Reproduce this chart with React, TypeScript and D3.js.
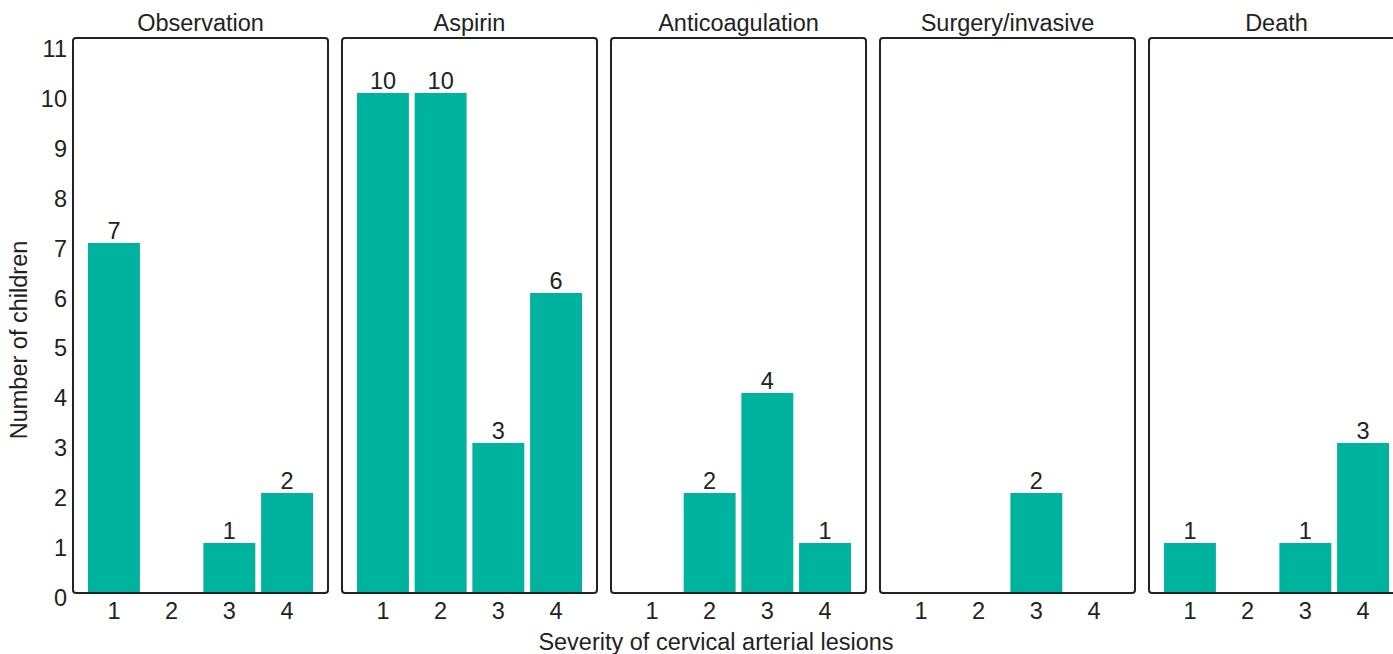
import React from "react";
import * as d3 from "d3";

const panels = ["Observation", "Aspirin", "Anticoagulation", "Surgery/invasive", "Death"];
const severities = ["1", "2", "3", "4"];
const observation = [7, 0, 1, 2];
const aspirin = [10, 10, 3, 6];
const anticoagulation = [0, 2, 4, 1];
const surgery = [0, 0, 2, 0];
const death = [1, 0, 1, 3];
const yTicks = [0, 1, 2, 3, 4, 5, 6, 7, 8, 9, 10, 11];
const xTitle = "Severity of cervical arterial lesions";
const yTitle = "Number of children";

const seriesList = [observation, aspirin, anticoagulation, surgery, death];

const W = 1393;
const H = 654;
const FONT = "'Liberation Sans', Arial, sans-serif";
const TEAL = "#00B39F";
const FS = 23.5;

export default function App() {
  const panelLeft0 = 73;
  const panelW = 255;
  const panelStep = 269;
  const top = 38;
  const bottom = 593;

  const y = d3.scaleLinear().domain([0, 10]).range([bottom, 93]);
  const x = d3.scaleBand<string>().domain(severities).range([15, 240]).paddingInner(0.1).paddingOuter(0);

  return (
    <svg width={W} height={H} style={{ position: "absolute", left: 0, top: 0, background: "#fff" }} fontFamily={FONT}>
      <rect x={0} y={0} width={W} height={H} fill="#fff" />
      {yTicks.map((t) => (
        <text key={t} x={67} y={y(t) + 7 + t * 0.05} textAnchor="end" fontSize={FS} fill="#222" dominantBaseline="middle">
          {t}
        </text>
      ))}
      <text
        transform={`translate(21, ${340}) rotate(-90)`}
        textAnchor="middle"
        dominantBaseline="middle"
        fontSize={FS}
        fill="#222"
      >
        {yTitle}
      </text>
      {panels.map((name, i) => {
        const left = panelLeft0 + i * panelStep;
        const vals = seriesList[i];
        return (
          <g key={name} transform={`translate(${left},0)`}>
            <text x={panelW / 2} y={25} textAnchor="middle" dominantBaseline="middle" fontSize={FS} fill="#222">
              {name}
            </text>
            {vals.map((v, j) =>
              v > 0 ? (
                <g key={j}>
                  <rect
                    x={x(severities[j])!}
                    y={y(v)}
                    width={x.bandwidth()}
                    height={bottom - y(v)}
                    fill={TEAL}
                  />
                  <text
                    x={x(severities[j])! + x.bandwidth() / 2}
                    y={y(v) - 4}
                    textAnchor="middle"
                    fontSize={FS}
                    fill="#222"
                  >
                    {v}
                  </text>
                </g>
              ) : null
            )}
            <rect x={0} y={top} width={panelW} height={bottom - top} rx={3} fill="none" stroke="#222" strokeWidth={2} />
            {severities.map((s) => (
              <text
                key={s}
                x={x(s)! + x.bandwidth() / 2}
                y={613}
                textAnchor="middle"
                dominantBaseline="middle"
                fontSize={FS}
                fill="#222"
              >
                {s}
              </text>
            ))}
          </g>
        );
      })}
      <text x={716} y={644} textAnchor="middle" dominantBaseline="middle" fontSize={FS} fill="#222">
        {xTitle}
      </text>
    </svg>
  );
}
